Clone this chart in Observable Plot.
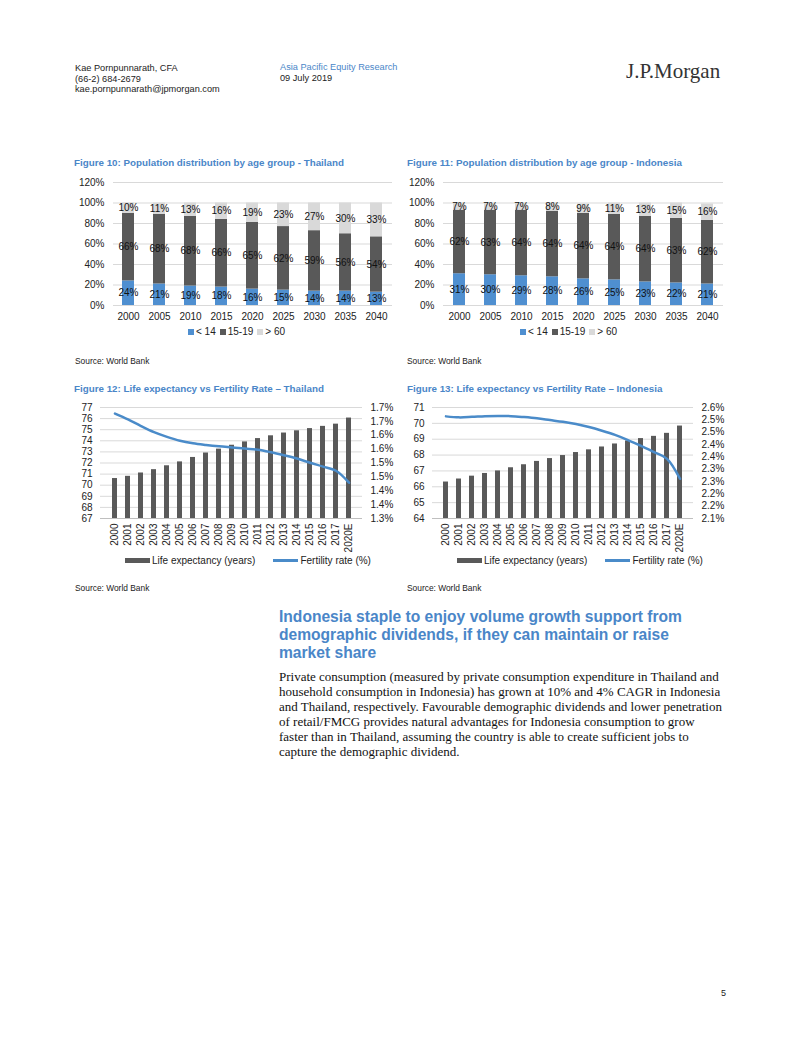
<!DOCTYPE html>
<html><head><meta charset="utf-8">
<script src="https://cdn.jsdelivr.net/npm/d3@7"></script>
<script src="https://cdn.jsdelivr.net/npm/@observablehq/plot@0.6"></script>
<style>
body{margin:0;background:#fff;}
#page{position:relative;width:802px;height:1037px;background:#fff;font-family:"Liberation Sans",Arial,sans-serif;overflow:hidden;color:#222;}
.abs{position:absolute;white-space:nowrap;}
.hdr{font-size:9.2px;line-height:10.5px;color:#222;}
.title{font-size:9.8px;font-weight:bold;color:#4a86c8;}
.src{font-size:8.4px;color:#222;}
.legend{font-size:10px;color:#222;display:flex;align-items:center;}
.sw{display:inline-block;margin-right:2px;}
.heading{font-size:15.6px;font-weight:bold;color:#4a86c8;line-height:18px;}
.body{font-family:"Liberation Serif","Times New Roman",serif;font-size:13px;line-height:15px;color:#111;}
</style></head><body><div id="page">
<div class="abs hdr" style="left:75px;top:63px;">Kae Pornpunnarath, CFA<br>(66-2) 684-2679<br>kae.pornpunnarath@jpmorgan.com</div>
<div class="abs hdr" style="left:280px;top:62px;"><span style="color:#4a86c8">Asia Pacific Equity Research</span><br>09 July 2019</div>
<div class="abs" style="left:626px;top:59px;font-family:'Liberation Serif',serif;font-size:21px;color:#333;">J.P.Morgan</div>

<div class="abs title" style="left:74px;top:157px;">Figure 10: Population distribution by age group - Thailand</div>
<div class="abs title" style="left:407px;top:157px;">Figure 11: Population distribution by age group - Indonesia</div>
<div id="c10" class="abs" style="left:70px;top:170px;"></div>
<div id="c11" class="abs" style="left:400px;top:170px;"></div>
<div id="l10" class="abs legend" style="left:188px;top:326px;"></div>
<div id="l11" class="abs legend" style="left:520px;top:326px;"></div>
<div class="abs src" style="left:75px;top:356px;">Source: World Bank</div>
<div class="abs src" style="left:407px;top:356px;">Source: World Bank</div>

<div class="abs title" style="left:74px;top:383px;">Figure 12: Life expectancy vs Fertility Rate – Thailand</div>
<div class="abs title" style="left:407px;top:383px;">Figure 13: Life expectancy vs Fertility Rate – Indonesia</div>
<div id="c12" class="abs" style="left:70px;top:395px;"></div>
<div id="c13" class="abs" style="left:400px;top:395px;"></div>
<div id="l12" class="abs legend" style="left:125px;top:555px;"></div>
<div id="l13" class="abs legend" style="left:457px;top:555px;"></div>
<div class="abs src" style="left:75px;top:583px;">Source: World Bank</div>
<div class="abs src" style="left:407px;top:583px;">Source: World Bank</div>

<div class="abs heading" style="left:279px;top:608px;">Indonesia staple to enjoy volume growth support from<br>demographic dividends, if they can maintain or raise<br>market share</div>
<div class="abs body" style="left:279px;top:669px;">Private consumption (measured by private consumption expenditure in Thailand and<br>household consumption in Indonesia) has grown at 10% and 4% CAGR in Indonesia<br>and Thailand, respectively. Favourable demographic dividends and lower penetration<br>of retail/FMCG provides natural advantages for Indonesia consumption to grow<br>faster than in Thailand, assuming the country is able to create sufficient jobs to<br>capture the demographic dividend.</div>
<div class="abs" style="left:721px;top:988px;font-size:9px;">5</div>
</div>
<script>
// ---- Population distribution data ----
const popYears = ["2000","2005","2010","2015","2020","2025","2030","2035","2040"];
const ageGroups = ["< 14","15-19","> 60"];
const ageColors = ["#4f8fd0","#595959","#d9d9d9"];
const thUnder14 = [24,21,19,18,16,15,14,14,13];
const th15to19  = [66,68,68,66,65,62,59,56,54];
const thOver60  = [10,11,13,16,19,23,27,30,33];
const idUnder14 = [31,30,29,28,26,25,23,22,21];
const id15to19  = [62,63,64,64,64,64,64,63,62];
const idOver60  = [7,7,7,8,9,11,13,15,16];
const popTicks = [0,20,40,60,80,100,120];

// ---- Life expectancy / fertility data ----
const leYears = ["2000","2001","2002","2003","2004","2005","2006","2007","2008","2009","2010","2011","2012","2013","2014","2015","2016","2017","2020E"];
const thLife = [70.6,70.8,71.1,71.4,71.75,72.1,72.5,72.9,73.25,73.6,73.9,74.2,74.45,74.7,74.9,75.1,75.3,75.5,76.05];
const thFert = [1.678,1.657,1.633,1.611,1.594,1.580,1.571,1.565,1.560,1.556,1.552,1.548,1.539,1.528,1.516,1.501,1.487,1.472,1.429];
const idLife = [66.3,66.49,66.67,66.84,67.0,67.2,67.39,67.6,67.78,67.97,68.16,68.33,68.51,68.70,68.89,69.04,69.18,69.37,69.83];
const idFert = [2.564,2.560,2.562,2.565,2.566,2.565,2.561,2.556,2.549,2.542,2.533,2.521,2.506,2.489,2.468,2.444,2.419,2.392,2.311];
const thLeftTicks = [67,68,69,70,71,72,73,74,75,76,77];
const thRightTicks = [1.3,1.35,1.4,1.45,1.5,1.55,1.6,1.65,1.7];
const thRightLabels = ["1.3%","1.4%","1.4%","1.5%","1.5%","1.6%","1.6%","1.7%","1.7%"];
const idLeftTicks = [64,65,66,67,68,69,70,71];
const idRightTicks = [2.15,2.2,2.25,2.3,2.35,2.4,2.45,2.5,2.55,2.6];
const idRightLabels = ["2.1%","2.2%","2.2%","2.3%","2.3%","2.4%","2.4%","2.5%","2.5%","2.6%"];
const lifeColor = "#595959";
const fertColor = "#4a8bc9";
const legendLabels = ["Life expectancy (years)","Fertility rate (%)"];

const font = {fontFamily: "Liberation Sans, Arial, sans-serif", fontSize: "10px", color: "#222", background: "transparent", overflow: "visible"};

function popChart(series, ml, mr) {
  const data = ageGroups.flatMap((g, gi) => popYears.map((yr, i) => ({year: yr, group: g, value: series[gi][i]})));
  return Plot.plot({
    width: 330, height: 160, marginLeft: ml, marginRight: mr, marginTop: 12, marginBottom: 25,
    style: font,
    x: {type: "band", domain: popYears, paddingInner: 0.6, paddingOuter: 0.3, label: null},
    y: {domain: [0, 120], label: null},
    color: {domain: ageGroups, range: ageColors},
    marks: [
      Plot.gridY(popTicks.filter(t => t > 0), {stroke: "#d9d9d9", strokeOpacity: 1}),
      Plot.barY(data, {x: "year", y: "value", fill: "group"}),
      Plot.ruleY([0], {stroke: "#d9d9d9"}),
      Plot.text(data, Plot.stackY({x: "year", y: "value", z: "group", text: d => d.value + "%", fill: "#111", fontSize: 10})),
      Plot.axisY(popTicks, {tickSize: 0, tickPadding: 9, tickFormat: d => d + "%", label: null}),
      Plot.axisX({tickSize: 0, tickPadding: 7, label: null})
    ]
  });
}

function lifeChart(o) {
  const l0 = o.lTicks[0], l1 = o.lTicks[o.lTicks.length - 1];
  const r0 = o.rTicks[0], r1 = o.rTicks[o.rTicks.length - 1];
  const toLeft = v => l0 + (v - r0) / (r1 - r0) * (l1 - l0);
  const data = leYears.map((yr, i) => ({year: yr, life: o.life[i], fert: o.fert[i]}));
  const rightMapped = o.rTicks.map(toLeft);
  const labelOf = new Map(rightMapped.map((v, i) => [v, o.rLabels[i]]));
  return Plot.plot({
    width: 330, height: 170, marginLeft: o.ml, marginRight: o.mr, marginTop: 12, marginBottom: 47,
    style: font,
    x: {type: "band", domain: leYears, paddingInner: 0.62, paddingOuter: 0.31, label: null},
    y: {domain: [l0, l1], label: null},
    marks: [
      Plot.gridY(o.lTicks.filter(t => t > l0), {stroke: "#d9d9d9", strokeOpacity: 1}),
      Plot.barY(data, {x: "year", y1: l0, y2: "life", fill: lifeColor}),
      Plot.ruleY([l0], {stroke: "#bfbfbf"}),
      Plot.line(data, {x: "year", y: d => toLeft(d.fert), stroke: fertColor, strokeWidth: 2.5, curve: "catmull-rom"}),
      Plot.axisY(o.lTicks, {tickSize: 0, tickPadding: 8, label: null}),
      Plot.axisY(rightMapped, {anchor: "right", tickSize: 0, tickPadding: 8, tickFormat: d => labelOf.get(d), label: null}),
      Plot.axisX({tickSize: 0, tickPadding: 5, tickRotate: -90, label: null})
    ]
  });
}

document.getElementById("c10").append(popChart([thUnder14, th15to19, thOver60], 43, 8));
document.getElementById("c11").append(popChart([idUnder14, id15to19, idOver60], 43, 7));
document.getElementById("c12").append(lifeChart({life: thLife, fert: thFert, lTicks: thLeftTicks, rTicks: thRightTicks, rLabels: thRightLabels, ml: 30, mr: 38}));
document.getElementById("c13").append(lifeChart({life: idLife, fert: idFert, lTicks: idLeftTicks, rTicks: idRightTicks, rLabels: idRightLabels, ml: 32, mr: 37}));

function popLegend(el) {
  ageGroups.forEach((g, i) => {
    const s = document.createElement("span");
    s.style.cssText = "display:inline-flex;align-items:center;margin-right:4px;";
    s.innerHTML = `<span class="sw" style="width:6px;height:6px;background:${ageColors[i]}"></span>${g}`;
    el.append(s);
  });
}
popLegend(document.getElementById("l10"));
popLegend(document.getElementById("l11"));

function lifeLegend(el) {
  el.innerHTML = `<span class="sw" style="width:25px;height:5px;background:${lifeColor};margin-right:2px"></span>${legendLabels[0]}` +
    `<span class="sw" style="width:25px;height:3px;background:${fertColor};margin-left:18px;margin-right:2px"></span>${legendLabels[1]}`;
}
lifeLegend(document.getElementById("l12"));
lifeLegend(document.getElementById("l13"));
</script>
</body></html>
